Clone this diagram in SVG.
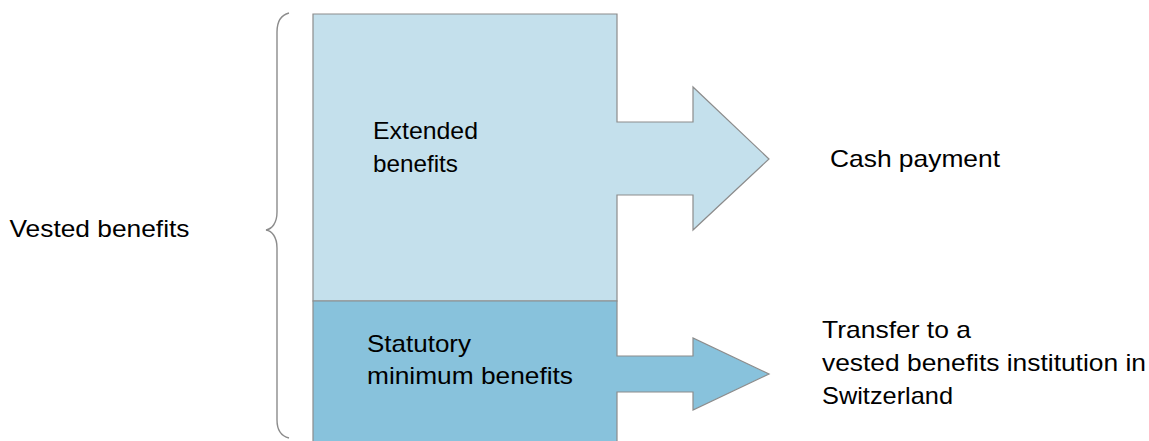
<svg xmlns="http://www.w3.org/2000/svg" width="1149" height="441" viewBox="0 0 1149 441">
  <style>
    .shape { stroke: #8c8c8c; stroke-width: 1.2; stroke-linejoin: miter; }
    .upper { fill: #c4e0ec; }
    .lower { fill: #88c2dc; }
    .brace { fill: none; stroke: #8c8c8c; stroke-width: 1.4; }
    .label { font-family: "Liberation Sans", Arial, sans-serif; font-size: 24px; fill: #000; }
  </style>
  <rect width="1149" height="441" fill="#ffffff"/>

  <!-- Brace grouping both benefit blocks -->
  <g id="brace">
    <path class="brace" d="M289,13 C281,15 277,22 277,32 V212 C277,223 272,229 266,230 C272,231 277,237 277,248 V420 C277,430 281,436 289,438"/>
  </g>
  <g id="vested-benefits">
    <text class="label" x="9.5" y="237" textLength="180" lengthAdjust="spacingAndGlyphs">Vested benefits</text>
  </g>

  <!-- Upper block with arrow to cash payment -->
  <g id="extended-benefits">
    <path class="shape upper" d="M313,14 H617 V122 H693 V87 L769,159 L693,230 V195 H617 V301 H313 Z"/>
    <text class="label" x="373" y="139" textLength="105" lengthAdjust="spacingAndGlyphs">Extended</text>
    <text class="label" x="373" y="172" textLength="85" lengthAdjust="spacingAndGlyphs">benefits</text>
  </g>

  <!-- Lower block with arrow to transfer -->
  <g id="statutory-minimum">
    <path class="shape lower" d="M313,301 H617 V356 H693 V338 L769,374 L693,410 V392 H617 V446 H313 Z"/>
    <text class="label" x="367" y="352" textLength="104" lengthAdjust="spacingAndGlyphs">Statutory</text>
    <text class="label" x="367" y="384" textLength="206" lengthAdjust="spacingAndGlyphs">minimum benefits</text>
  </g>

  <g id="cash-payment">
    <text class="label" x="830" y="167" textLength="170" lengthAdjust="spacingAndGlyphs">Cash payment</text>
  </g>

  <g id="transfer">
    <text class="label" x="822" y="338" textLength="149" lengthAdjust="spacingAndGlyphs">Transfer to a</text>
    <text class="label" x="822" y="371" textLength="324" lengthAdjust="spacingAndGlyphs">vested benefits institution in</text>
    <text class="label" x="822" y="404" textLength="131" lengthAdjust="spacingAndGlyphs">Switzerland</text>
  </g>

  <!-- The block arrows carry the flow; no separate connectors -->
  <g id="connectors"></g>
</svg>
